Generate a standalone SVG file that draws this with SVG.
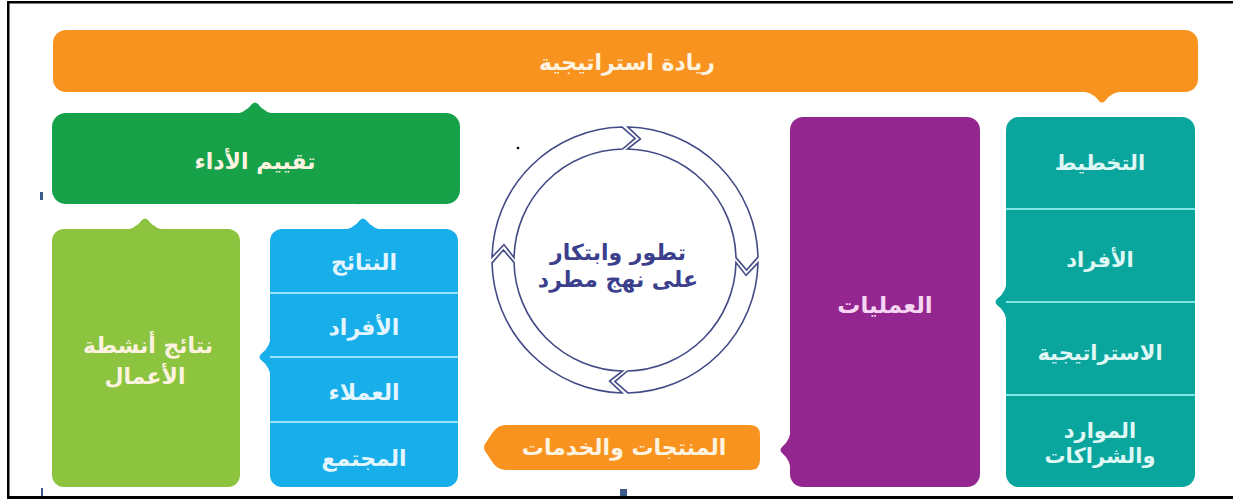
<svg xmlns="http://www.w3.org/2000/svg" width="1233" height="500" viewBox="0 0 1233 500">
<defs>
<style>
.t{font-family:"DejaVu Sans","Noto Sans",sans-serif;text-anchor:middle;dominant-baseline:central;font-weight:bold}
.w{fill:#fdf3e0;font-size:22px}
.tl{fill:#dff7f5;font-size:21px}
.bl{fill:#e3f6ff;font-size:22px}
.div{stroke-width:2;fill:none}
.ring{fill:#ffffff;stroke:#434a86;stroke-width:1.6;stroke-linejoin:miter}
</style>
<path id="seg" d="M 627.90 127.03 A 133 133 0 0 1 757.97 257.10 L 746.58 270.10 L 735.97 257.58 A 111 111 0 0 0 627.42 149.03 L 640.40 138.98 Z"/>
</defs>
<rect x="0" y="0" width="1233" height="500" fill="#ffffff"/>
<g id="frame" fill="#000">
<rect x="8" y="1" width="1225" height="2.5"/>
<rect x="7" y="1" width="2.5" height="498"/>
<rect x="7" y="496" width="1226" height="3"/>
</g>
<g id="marks">
<rect x="40" y="192" width="3" height="8" fill="#3c5a8a"/>
<rect x="41" y="488" width="2" height="8" fill="#3c5a8a"/>
<rect x="620" y="489" width="7" height="7" fill="#3c5a8a"/>
<circle cx="518" cy="148" r="1.3" fill="#000"/>
<circle cx="358" cy="203" r="1.3" fill="#000"/>
</g>
<g id="leadership">
<rect x="53" y="30" width="1145" height="62" rx="13" fill="#f7931e"/>
<path d="M1078 91 Q1092 91 1099 101 Q1102 104 1105 101 Q1112 91 1126 91 Z" fill="#f7931e"/>
<text class="t w" x="627" y="62">ريادة استراتيجية</text>
</g>
<g id="evaluation">
<rect x="52" y="113" width="408" height="91" rx="14" fill="#17a24a"/>
<path d="M231 114 Q245 114 252 104 Q255 101 258 104 Q265 114 279 114 Z" fill="#17a24a"/>
<text class="t w" x="255" y="161">تقييم الأداء</text>
</g>
<g id="business-results">
<rect x="52" y="229" width="188" height="258" rx="12" fill="#8cc43f"/>
<path d="M121 230 Q135 230 142 220 Q145 217 148 220 Q155 230 169 230 Z" fill="#8cc43f"/>
<text class="t w" x="148" y="345">نتائج أنشطة</text>
<text class="t w" x="145" y="376">الأعمال</text>
</g>
<g id="results">
<rect x="270" y="229" width="188" height="258" rx="12" fill="#18aeea"/>
<path d="M339 230 Q353 230 360 220 Q363 217 366 220 Q373 230 387 230 Z" fill="#18aeea"/>
<path d="M271 333 Q271 347 261 354 Q258 357 261 360 Q271 367 271 381 Z" fill="#18aeea"/>
<g class="div" stroke="#9be3fb">
<line x1="270" y1="293" x2="458" y2="293"/>
<line x1="270" y1="357" x2="458" y2="357"/>
<line x1="270" y1="422" x2="458" y2="422"/>
</g>
<text class="t bl" x="364" y="262">النتائج</text>
<text class="t bl" x="364" y="327">الأفراد</text>
<text class="t bl" x="364" y="392">العملاء</text>
<text class="t bl" x="364" y="458">المجتمع</text>
</g>
<g id="cycle">
<use href="#seg" class="ring"/>
<use href="#seg" class="ring" transform="rotate(90 625 260)"/>
<use href="#seg" class="ring" transform="rotate(180 625 260)"/>
<use href="#seg" class="ring" transform="rotate(270 625 260)"/>
<text class="t" x="618" y="252" fill="#3b3f8c" font-size="22">تطور وابتكار</text>
<text class="t" x="618" y="279" fill="#3b3f8c" font-size="22">على نهج مطرد</text>
</g>
<g id="products">
<path d="M506 425 L750 425 Q760 425 760 435 L760 460 Q760 470 750 470 L506 470 Q498 470 493 463 L485 451 Q483 447.5 485 444 L493 432 Q498 425 506 425 Z" fill="#f7931e"/>
<text class="t w" x="624" y="447">المنتجات والخدمات</text>
</g>
<g id="operations">
<rect x="790" y="117" width="190" height="370" rx="13" fill="#93278f"/>
<path d="M791 426 Q791 440 782 447 Q779 450 782 453 Q791 460 791 474 Z" fill="#93278f"/>
<text class="t" x="885" y="305" fill="#f6d6f2" font-size="23">العمليات</text>
</g>
<g id="planning">
<rect x="1006" y="117" width="189" height="370" rx="13" fill="#0aa69d"/>
<path d="M1007 278 Q1007 292 997 299 Q994 302 997 305 Q1007 312 1007 326 Z" fill="#0aa69d"/>
<g class="div" stroke="#7fe6e4">
<line x1="1006" y1="209" x2="1195" y2="209"/>
<line x1="1006" y1="302" x2="1195" y2="302"/>
<line x1="1006" y1="395" x2="1195" y2="395"/>
</g>
<text class="t tl" x="1100" y="163">التخطيط</text>
<text class="t tl" x="1100" y="260">الأفراد</text>
<text class="t tl" x="1100" y="353">الاستراتيجية</text>
<text class="t tl" x="1100" y="431">الموارد</text>
<text class="t tl" x="1100" y="456">والشراكات</text>
</g>
</svg>
